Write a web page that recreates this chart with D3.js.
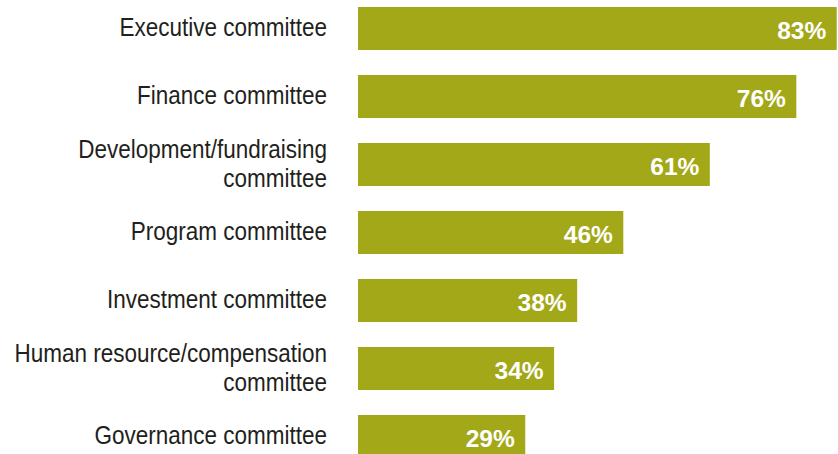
<!DOCTYPE html>
<html>
<head>
<meta charset="utf-8">
<script src="https://cdn.jsdelivr.net/npm/d3@7"></script>
<style>
  html, body { margin: 0; padding: 0; background: #fff; }
  svg { display: block; }
</style>
</head>
<body>
<svg id="chart" width="838" height="454"></svg>
<script>
// Share of boards that have each standing committee
const categories = [
  "Executive committee",
  "Finance committee",
  "Development/fundraising committee",
  "Program committee",
  "Investment committee",
  "Human resource/compensation committee",
  "Governance committee"
];
// How each category label is broken onto lines
const labelLines = [
  ["Executive committee"],
  ["Finance committee"],
  ["Development/fundraising", "committee"],
  ["Program committee"],
  ["Investment committee"],
  ["Human resource/compensation", "committee"],
  ["Governance committee"]
];
const values = [83, 76, 61, 46, 38, 34, 29];

const W = 838, H = 454;
const barColor = "#a3a818";
const textColor = "#231f20";

const svg = d3.select("#chart");

const x = d3.scaleLinear().domain([0, 100]).range([358, 358 + 576.75]);
const y = d3.scaleBand()
  .domain(categories)
  .range([7, 458])
  .paddingInner(25 / 68)
  .paddingOuter(0);

// Bars
svg.append("g")
  .selectAll("rect")
  .data(categories)
  .join("rect")
  .attr("x", x(0))
  .attr("y", d => y(d))
  .attr("width", (d, i) => x(values[i]) - x(0))
  .attr("height", y.bandwidth())
  .attr("fill", barColor);

// Value labels inside bar ends
svg.append("g")
  .selectAll("text")
  .data(categories)
  .join("text")
  .attr("x", (d, i) => x(values[i]) - 10.5)
  .attr("y", d => y(d) + y.bandwidth() / 2 + 10)
  .attr("text-anchor", "end")
  .attr("fill", "#fff")
  .attr("font-family", "'Liberation Sans', Arial, sans-serif")
  .attr("font-weight", "bold")
  .attr("font-size", "24.5px")
  .text((d, i) => values[i] + "%");

// Category labels, right-aligned left of the bars (condensed)
const labelScaleX = 0.9;
const lab = svg.append("g")
  .selectAll("g")
  .data(categories)
  .join("g")
  .attr("transform", d => `translate(327, ${y(d) + y.bandwidth() / 2}) scale(${labelScaleX}, 1)`);

lab.each(function (d, i) {
  const lines = labelLines[i];
  const t = d3.select(this).append("text")
    .attr("text-anchor", "end")
    .attr("fill", textColor)
    .attr("font-family", "'Liberation Sans', Arial, sans-serif")
    .attr("font-size", "25px");
  const firstBaseline = lines.length === 1 ? 7.5 : -6.5;
  lines.forEach((line, k) => {
    t.append("tspan")
      .attr("x", 0)
      .attr("y", firstBaseline + k * 28.5)
      .text(line);
  });
});
</script>
</body>
</html>
